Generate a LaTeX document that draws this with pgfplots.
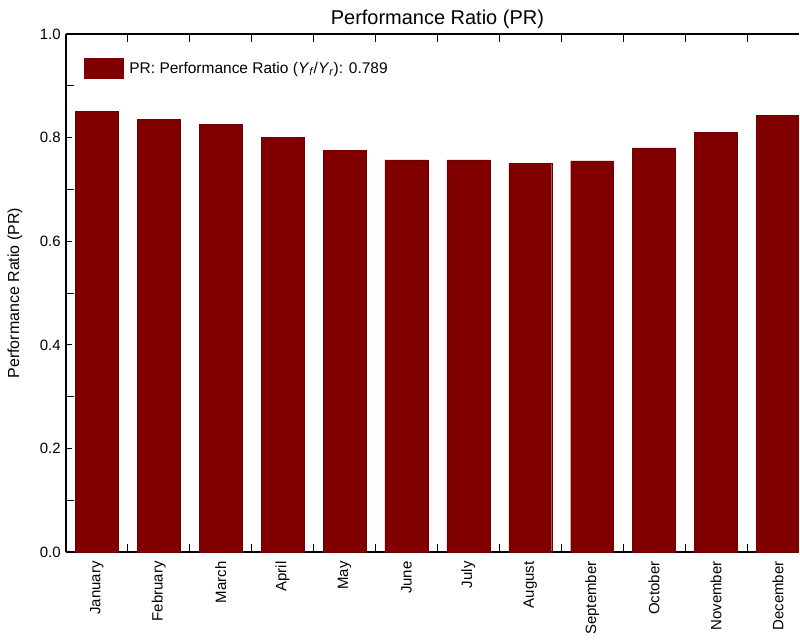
\documentclass[border=0pt]{standalone}
\usepackage{pgfplots}
\pgfplotsset{compat=1.18}
\usepackage{fontspec}
\setmainfont{Liberation Sans}

\definecolor{prbar}{RGB}{128,0,0}

\pgfplotstableread{
idx month     pr
0   January   0.850
1   February  0.835
2   March     0.826
3   April     0.801
4   May       0.775
5   June      0.757
6   July      0.757
7   August    0.751
8   September 0.755
9   October   0.780
10  November  0.810
11  December  0.843
}\prdata

\begin{document}
\begin{tikzpicture}
\begin{axis}[
  scale only axis,
  width=734pt, height=519pt,
  xmin=-0.5, xmax=11.339,
  ymin=0, ymax=1.0,
  axis line style={line width=2.2pt, black},
  axis x line*=box, axis y line*=left,
  tick align=inside,
  tick style={black, line width=0.9pt},
  xtick={0,...,11},
  xticklabels from table={\prdata}{month},
  major x tick style={draw=none},
  minor xtick={0.5,1.5,...,10.5},
  minor x tick style={black, line width=0.9pt},
  xtick pos=both,
  minor tick length=8pt,
  ytick={0,0.2,...,1.0},
  minor ytick={0.1,0.3,...,0.9},
  major tick length=6pt,
  /pgf/number format/assume math mode=true,
  yticklabel style={/pgf/number format/fixed, /pgf/number format/fixed zerofill,
    /pgf/number format/precision=1, font=\fontsize{15}{18}\selectfont, inner sep=2pt, xshift=-3pt},
  xticklabel style={rotate=90, anchor=east, font=\fontsize{15}{18}\selectfont, inner sep=0pt, xshift=1pt},
  xticklabel shift=10pt,
  every axis title shift=0pt,
  title={Performance Ratio (PR)},
  title style={at={(axis description cs:0.5,1)}, anchor=south, font=\fontsize{20}{24}\selectfont, inner sep=0pt, yshift=5pt, xshift=5pt},
  ylabel={Performance Ratio (PR)},
  ylabel style={at={(axis description cs:-0.0695,0.5)}, anchor=center, font=\fontsize{16}{19}\selectfont},
  legend style={at={(axis description cs:0.0245,0.954)}, anchor=north west,
    draw=none, fill=none, inner sep=0pt, font=\fontsize{15.5}{18}\selectfont,
    nodes={inner sep=2pt},
    /tikz/every odd column/.append style={column sep=4pt}},
  legend image code/.code={\fill[prbar] (0pt,-10pt) rectangle (39pt,10pt);},
  legend cell align=left,
]
\addplot[ybar, bar width=43pt, fill=prbar, draw=prbar!85!black, line width=0.4pt]
  table[x=idx, y=pr] {\prdata};
\addlegendentry{PR: Performance Ratio (\textit{Y}\textsubscript{\textit{f}}/\textit{Y}\textsubscript{\textit{r}}): 0.789}
\end{axis}
% margins around the axis box
\path (current axis.south west) ++(-66pt,-89pt);
\path (current axis.north west) ++(0pt,34pt);
\end{tikzpicture}
\end{document}
